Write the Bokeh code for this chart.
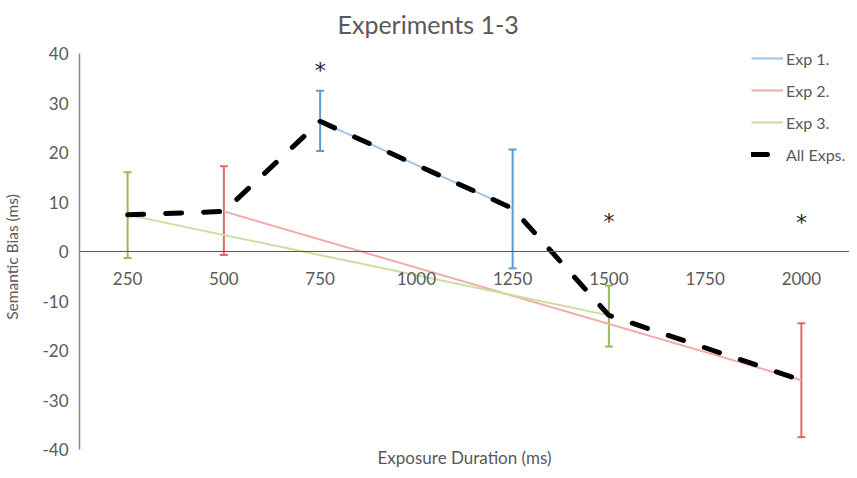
from bokeh.plotting import figure
from bokeh.models import (ColumnDataSource, Whisker, TeeHead, CategoricalAxis,
                          FixedTicker, Legend, LegendItem, Label, Range1d)
from bokeh.core.properties import value
from bokeh.embed import file_html
from bokeh.resources import INLINE

# ---- data ----
durations = ["250", "500", "750", "1000", "1250", "1500", "1750", "2000"]

exp1_x = ["750", "1250"]
exp1_y = [26.3, 8.7]
exp1_upper = [32.5, 20.6]
exp1_lower = [20.3, -3.4]

exp2_x = ["500", "2000"]
exp2_y = [8.1, -26.0]
exp2_upper = [17.2, -14.5]
exp2_lower = [-0.7, -37.5]

exp3_x = ["250", "1500"]
exp3_y = [7.4, -12.9]
exp3_upper = [16.0, -6.9]
exp3_lower = [-1.3, -19.2]

all_x = ["250", "500", "750", "1250", "1500", "2000"]
all_y = [7.4, 8.1, 26.3, 8.7, -12.9, -26.0]

star_x = ["750", "1500", "2000"]
star_y = [36.6, 6.1, 5.8]

y_ticks = [-40, -30, -20, -10, 0, 10, 20, 30, 40]
y_tick_labels = ["-40", "-30", "-20", "-10", "0", "10", "20", "30", "40"]

FONT = "Lato"
GRAY = "#595959"
PX = 4.95  # pixels per y unit in the frame

p = figure(x_range=durations, y_range=Range1d(-40 - 19 / PX, 40 + 8 / PX),
           frame_width=770, frame_height=423,
           min_border_left=0, min_border_top=0, min_border_right=0, min_border_bottom=0,
           x_axis_location=None, output_backend="svg", toolbar_location=None)
p.outline_line_color = None
p.grid.visible = False
p.background_fill_color = "white"

# title
p.title.text = "Experiments 1-3"
p.title.text_font = FONT
p.title.text_font_size = "25px"
p.title.text_font_style = "normal"
p.title.text_color = GRAY
p.title.align = "left"
p.title.offset = 258
p.title.standoff = 13

# y axis
yax = p.yaxis[0]
yax.bounds = (-40.05, 40.05)
yax.ticker = FixedTicker(ticks=y_ticks)
yax.major_label_overrides = dict(zip(y_ticks, y_tick_labels))
yax.axis_line_color = "#868686"
yax.axis_line_width = 1.5
yax.major_tick_out = 0
yax.major_tick_in = 0
yax.minor_tick_out = 0
yax.minor_tick_in = 0
yax.major_label_text_font = FONT
yax.major_label_text_font_size = "17px"
yax.major_label_text_color = GRAY
yax.major_label_standoff = 11
yax.axis_label = "Semantic Bias (ms)"
yax.axis_label_text_font = FONT
yax.axis_label_text_font_size = "15.5px"
yax.axis_label_text_font_style = "normal"
yax.axis_label_text_color = GRAY
yax.axis_label_standoff = 18

# x axis at y = 0
xax = CategoricalAxis(fixed_location=0)
xax.axis_line_color = "#595959"
xax.axis_line_width = 1
xax.major_tick_out = 0
xax.major_tick_in = 0
xax.minor_tick_out = 0
xax.minor_tick_in = 0
xax.major_label_text_font = FONT
xax.major_label_text_font_size = "17px"
xax.major_label_text_color = GRAY
xax.major_label_standoff = 20
p.add_layout(xax, "below")

p.add_layout(Label(x=385, y=11, x_units="screen", y_units="screen",
                   text="Exposure Duration (ms)", text_font=FONT,
                   text_font_size="17px", text_color=GRAY,
                   text_align="center", text_baseline="middle"))

# experiment lines
l1 = p.line(exp1_x, exp1_y, line_color="#9DC3E6", line_width=2)
l2 = p.line(exp2_x, exp2_y, line_color="#F2AAA8", line_width=2)
l3 = p.line(exp3_x, exp3_y, line_color="#C9DFA0", line_width=2)

# error bars
for xs, up, lo, col in [(exp1_x, exp1_upper, exp1_lower, "#5B9BD5"),
                        (exp2_x, exp2_upper, exp2_lower, "#DE6A66"),
                        (exp3_x, exp3_upper, exp3_lower, "#9BBB59")]:
    src = ColumnDataSource(dict(x=xs, upper=up, lower=lo))
    w = Whisker(base="x", upper="upper", lower="lower", source=src,
                line_color=col, line_width=2,
                upper_head=TeeHead(size=8, line_color=col, line_width=2),
                lower_head=TeeHead(size=8, line_color=col, line_width=2))
    p.add_layout(w)

# all experiments
la = p.line(all_x, all_y, line_color="black", line_width=5,
            line_dash="16 22", line_cap="round")

# significance markers
p.text(x=star_x, y=star_y, text=["*"] * len(star_x), text_font=value("DejaVu Sans"),
       text_font_size="22px", text_align="center", text_baseline="alphabetic",
       text_color="#262626")

legend = Legend(items=[LegendItem(label="Exp 1.", renderers=[l1]),
                       LegendItem(label="Exp 2.", renderers=[l2]),
                       LegendItem(label="Exp 3.", renderers=[l3]),
                       LegendItem(label="All Exps.", renderers=[la])],
                location=(672, 304), padding=0, margin=0, spacing=12,
                glyph_width=32, glyph_height=20, label_height=20, label_standoff=3,
                label_text_font=FONT, label_text_font_size="16px",
                label_text_color=GRAY, border_line_color=None,
                background_fill_alpha=0)
p.add_layout(legend)

open("out.html", "w").write(file_html(p, INLINE))
